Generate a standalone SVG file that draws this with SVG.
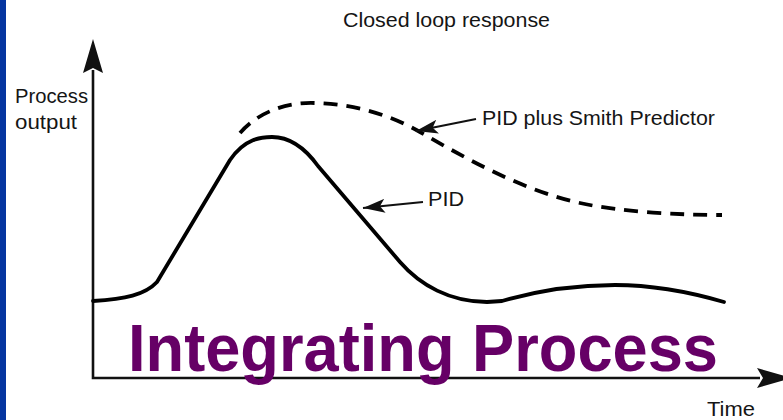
<svg xmlns="http://www.w3.org/2000/svg" width="783" height="420" viewBox="0 0 783 420">
<style>
.lbl{font-family:"Liberation Sans",Arial,sans-serif;font-size:20px;fill:#151515}
.axis{stroke:#111;stroke-width:2.6;fill:none}
.curve{stroke:#000;stroke-width:3.8;fill:none;stroke-linecap:round;stroke-linejoin:round}
.dash{stroke-dasharray:14 9;stroke-linecap:butt}
.ptr{stroke:#111;stroke-width:2;fill:none}
.title{font-family:"Liberation Sans",Arial,sans-serif;font-weight:bold;font-size:67px;fill:#660066}
</style>
<defs>
<marker id="ah" markerUnits="userSpaceOnUse" markerWidth="24" markerHeight="14" refX="22" refY="7" orient="auto">
<path d="M0,0 L22,7 L0,14 L5,7 Z" fill="#111"/>
</marker>
</defs>
<rect width="783" height="420" fill="#fff"/>
<rect x="0" y="0" width="6" height="420" fill="#0535a0"/>
<g id="axes">
<path class="axis" d="M93,70 L93,378 L760,378"/>
<polygon points="93,39 83,73 93,68 103,73" fill="#111"/>
<polygon points="792,378 757,368 763,378 757,388" fill="#111"/>
</g>
<g id="curve-pid">
<path class="curve" d="M93,301 C125,299 145,295 157,282 L230,160 C245,138 262,137 272,137 C290,137 305,148 318,166 L400,262 C420,285 450,302 487,302 L502,301 C540,290 580,285 615,285 C660,285 700,295 724,302"/>
</g>
<g id="curve-smith">
<path class="curve dash" d="M240,133 C260,110 290,102 315,103 C355,104 390,115 420,132 C460,155 520,190 580,203 C620,212 680,215 722,215"/>
</g>
<g id="connectors">
<path class="ptr" d="M476,119 L416,131" marker-end="url(#ah)"/>
<path class="ptr" d="M423,202 L363,208" marker-end="url(#ah)"/>
</g>
<g id="labels">
<text class="lbl" x="343" y="27" textLength="207" lengthAdjust="spacingAndGlyphs">Closed loop response</text>
<text class="lbl" x="15" y="103" textLength="73" lengthAdjust="spacingAndGlyphs">Process</text>
<text class="lbl" x="15" y="129" textLength="62" lengthAdjust="spacingAndGlyphs">output</text>
<text class="lbl" x="482" y="125" textLength="233" lengthAdjust="spacingAndGlyphs">PID plus Smith Predictor</text>
<text class="lbl" x="428" y="206" textLength="36" lengthAdjust="spacingAndGlyphs">PID</text>
<text class="lbl" x="707" y="416" textLength="48" lengthAdjust="spacingAndGlyphs">Time</text>
</g>
<g id="title">
<text class="title" x="128" y="371" textLength="590" lengthAdjust="spacingAndGlyphs">Integrating Process</text>
</g>
</svg>
